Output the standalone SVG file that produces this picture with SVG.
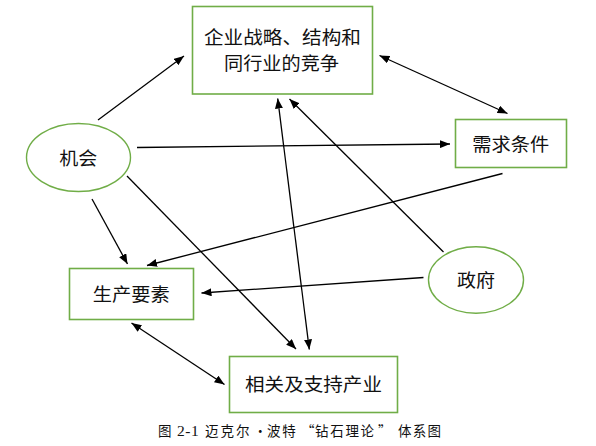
<svg xmlns="http://www.w3.org/2000/svg" width="596" height="446" viewBox="0 0 596 446">
<defs>
<marker id="ah" markerUnits="userSpaceOnUse" markerWidth="11" markerHeight="8" refX="10" refY="4" orient="auto-start-reverse">
<path d="M0,0 L10,4 L0,8 z" fill="#000"/>
</marker>
<style>
.box{fill:#fff;stroke:#70AD47;stroke-width:1.6}
.lbl{font-family:"Noto Sans CJK SC","Liberation Serif",serif;font-size:18.5px;fill:#111;text-anchor:middle}
.cap{font-family:"Liberation Serif","Noto Sans CJK SC",serif;font-size:13.5px;fill:#111}
.cj{font-family:"Noto Sans CJK SC",sans-serif}
.c line{stroke:#000;stroke-width:1.3;fill:none}
</style>
</defs>
<rect width="596" height="446" fill="#fff"/>
<g id="strategy">
<rect class="box" x="192.5" y="6.5" width="180" height="87.5"/>
<text class="lbl" x="282.5" y="43.5" textLength="157" lengthAdjust="spacingAndGlyphs">企业战略、结构和</text>
<text class="lbl" x="281.5" y="70" textLength="115" lengthAdjust="spacingAndGlyphs">同行业的竞争</text>
</g>
<g id="demand">
<rect class="box" x="455.5" y="119.5" width="111" height="48"/>
<text class="lbl" x="510.7" y="150.5" textLength="77" lengthAdjust="spacingAndGlyphs">需求条件</text>
</g>
<g id="chance">
<ellipse cx="78.5" cy="157.5" rx="52" ry="34" fill="#fff" stroke="#70AD47" stroke-width="1.4"/>
<text class="lbl" x="78.3" y="165" textLength="38" lengthAdjust="spacingAndGlyphs">机会</text>
</g>
<g id="factors">
<rect class="box" x="69.5" y="268.5" width="124" height="51"/>
<text class="lbl" x="131.3" y="301" textLength="77" lengthAdjust="spacingAndGlyphs">生产要素</text>
</g>
<g id="related">
<rect class="box" x="229.5" y="356.5" width="168" height="56"/>
<text class="lbl" x="313.5" y="391" textLength="137" lengthAdjust="spacingAndGlyphs">相关及支持产业</text>
</g>
<g id="government">
<ellipse cx="476" cy="280" rx="47.5" ry="33.3" fill="#fff" stroke="#70AD47" stroke-width="1.4"/>
<text class="lbl" x="476" y="287" textLength="38" lengthAdjust="spacingAndGlyphs">政府</text>
</g>
<g id="connectors" class="c">
<line x1="98" y1="120" x2="184" y2="56" marker-end="url(#ah)"/>
<line x1="137" y1="147.5" x2="450" y2="144" marker-end="url(#ah)"/>
<line x1="92" y1="199" x2="127.5" y2="264" marker-end="url(#ah)"/>
<line x1="127" y1="176" x2="296" y2="349" marker-end="url(#ah)"/>
<line x1="502.5" y1="173.5" x2="147" y2="265.5" marker-end="url(#ah)"/>
<line x1="423.5" y1="277.5" x2="201.5" y2="293" marker-end="url(#ah)"/>
<line x1="443.5" y1="252" x2="289.5" y2="99" marker-end="url(#ah)"/>
<line x1="277.7" y1="98.5" x2="309.3" y2="349.5" marker-start="url(#ah)" marker-end="url(#ah)"/>
<line x1="131.5" y1="323" x2="224.5" y2="384.5" marker-start="url(#ah)" marker-end="url(#ah)"/>
<line x1="379.5" y1="55.5" x2="507.5" y2="113.5" marker-start="url(#ah)" marker-end="url(#ah)"/>
</g>
<text class="cap" y="436"><tspan class="cj" x="158">图</tspan><tspan x="177" font-size="15.5" letter-spacing="0.5">2-1</tspan><tspan class="cj" x="205" letter-spacing="2">迈克尔</tspan><tspan class="cj" x="253.5">•</tspan><tspan class="cj" x="267" letter-spacing="1.8">波特</tspan><tspan class="cj" x="301">“</tspan><tspan class="cj" x="315" letter-spacing="1.7">钻石理论</tspan><tspan class="cj" x="378">”</tspan><tspan class="cj" x="398" letter-spacing="1.2">体系图</tspan></text>
</svg>
